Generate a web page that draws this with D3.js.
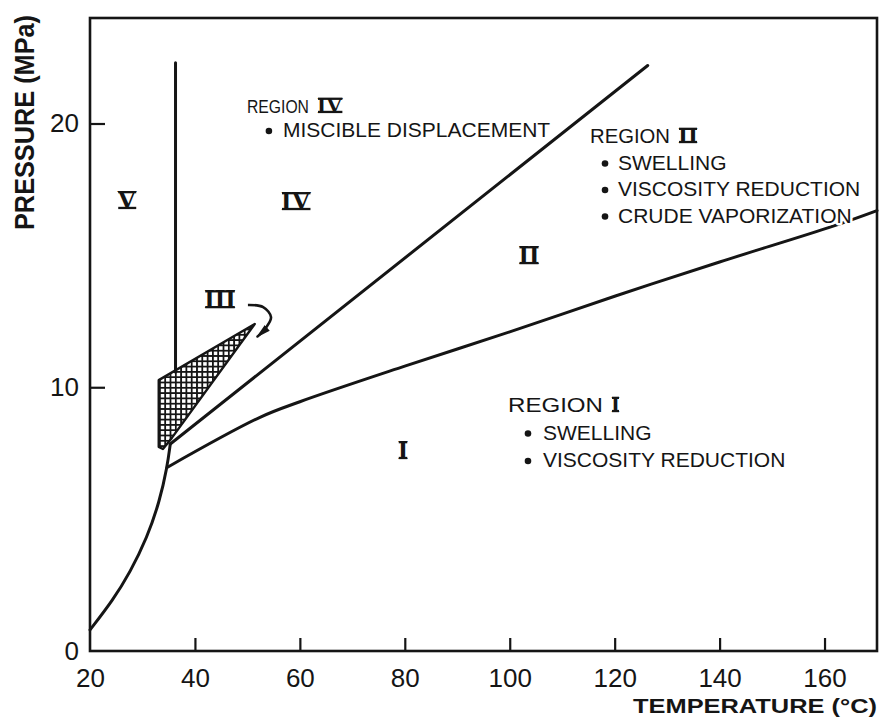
<!DOCTYPE html>
<html>
<head>
<meta charset="utf-8">
<script src="https://cdn.jsdelivr.net/npm/d3@7"></script>
<style>
  body { margin: 0; background: #ffffff; }
  svg { display: block; }
  .tick text { font-family: "Liberation Sans", Arial, sans-serif; font-size: 26px; fill: #151515; }
  .lbl { font-family: "Liberation Sans", Arial, sans-serif; font-size: 21px; fill: #151515;
         stroke: #fff; stroke-width: 5px; paint-order: stroke; stroke-linejoin: round; }
  .num { font-family: "Liberation Serif", "DejaVu Serif", serif; font-weight: bold; fill: #151515; }
  .axis-title { font-family: "Liberation Sans", Arial, sans-serif; font-weight: bold; fill: #151515; }
</style>
</head>
<body>
<svg id="chart" width="881" height="718"></svg>
<script>
// ---- Data: CO2 / crude oil phase-behaviour regions (temperature °C, pressure MPa) ----
const xTicks = [20, 40, 60, 80, 100, 120, 140, 160];
const yTicks = [0, 10, 20];

// Vapour-pressure curve rising from the lower left
const vaporT = [20, 24.4, 27.6, 30.9, 33.3, 34.7, 35.3];
const vaporP = [0.8, 1.94, 2.97, 4.3, 5.7, 6.96, 7.85];

// Boundary between region I and region II
const lowerT = [34.7, 52.4, 60, 80, 100, 120, 140, 161.5, 170];
const lowerP = [6.96, 8.86, 9.45, 10.8, 12.1, 13.45, 14.75, 16.1, 16.7];

// Boundary between region II and region IV
const upperT = [35.3, 126.3];
const upperP = [7.85, 22.2];

// Boundary between region V and region IV
const vertT = [36.3, 36.3];
const vertP = [22.3, 10.58];

// Region III (cross-hatched)
const hatchT = [33.1, 51.4, 35.6, 33.9, 33.1];
const hatchP = [10.27, 12.4, 8.08, 7.66, 7.74];

// Arrow pointing from the "III" label into the hatched region
const arrowT = [50.1, 53.0, 54.5, 53.5, 51.8];
const arrowP = [13.12, 13.04, 12.66, 12.25, 11.9];

// Region numerals inside the chart
const numeralText = ["V", "IV", "III", "II", "I"];
const numeralT = [27.05, 59.26, 44.78, 103.67, 79.66];
const numeralP = [16.76, 16.72, 13.0, 14.67, 7.28];

// Region descriptions
const regionIVItems = ["MISCIBLE DISPLACEMENT"];
const regionIIItems = ["SWELLING", "VISCOSITY REDUCTION", "CRUDE VAPORIZATION"];
const regionIItems = ["SWELLING", "VISCOSITY REDUCTION"];

// ---- Layout ----
const svg = d3.select("#chart");
const x = d3.scaleLinear().domain([20, 170]).range([90, 877]);
const y = d3.scaleLinear().domain([0, 24]).range([651, 18]);
const ink = "#151515";

// cross-hatch pattern
const defs = svg.append("defs");
const pat = defs.append("pattern").attr("id", "xhatch")
  .attr("patternUnits", "userSpaceOnUse").attr("width", 5.3).attr("height", 5.3);
pat.append("rect").attr("width", 5.3).attr("height", 5.3).attr("fill", "#fff");
pat.append("path").attr("d", "M0,0.9H5.3M0.9,0V5.3").attr("stroke", ink).attr("stroke-width", 1.8);

defs.append("marker").attr("id", "head").attr("viewBox", "0 0 14 8")
  .attr("refX", 13).attr("refY", 4).attr("markerWidth", 15).attr("markerHeight", 9)
  .attr("markerUnits", "userSpaceOnUse").attr("orient", "auto")
  .append("path").attr("d", "M0,0.5L14,4L0,7.5Z").attr("fill", ink);

const g = svg.append("g");

// axes (ticks point inward)
const xAxis = d3.axisBottom(x).tickValues(xTicks).tickSize(-13).tickPadding(18).tickFormat(d3.format("d"));
const yAxis = d3.axisLeft(y).tickValues(yTicks).tickSize(-15).tickPadding(11).tickFormat(d3.format("d"));
const gx = g.append("g").attr("transform", `translate(0,${y(0)})`).call(xAxis);
const gy = g.append("g").attr("transform", `translate(${x(20)},0)`).call(yAxis);
[gx, gy].forEach(a => {
  a.select(".domain").remove();
  a.selectAll(".tick line").attr("stroke", ink).attr("stroke-width", 2.2);
});
gx.selectAll(".tick").filter(d => d === 20).select("line").remove();
gy.selectAll(".tick").filter(d => d === 0).select("line").remove();

// frame
g.append("rect").attr("x", x(20)).attr("y", y(24))
  .attr("width", x(170) - x(20)).attr("height", y(0) - y(24))
  .attr("fill", "none").attr("stroke", ink).attr("stroke-width", 2.6);

// axis titles
g.append("text").attr("class", "axis-title")
  .attr("transform", `translate(34,${y(24) - 3}) rotate(-90)`)
  .attr("text-anchor", "end").attr("font-size", 27)
  .attr("textLength", 215).attr("lengthAdjust", "spacingAndGlyphs")
  .text("PRESSURE (MPa)");
g.append("text").attr("class", "axis-title")
  .attr("x", 877).attr("y", 713).attr("text-anchor", "end").attr("font-size", 21)
  .attr("textLength", 244).attr("lengthAdjust", "spacingAndGlyphs")
  .text("TEMPERATURE (°C)");

// boundaries
const zip = (ts, ps) => ts.map((t, i) => [t, ps[i]]);
const smooth = d3.line().x(d => x(d[0])).y(d => y(d[1])).curve(d3.curveCatmullRom.alpha(0.5));
const basis = d3.line().x(d => x(d[0])).y(d => y(d[1])).curve(d3.curveBasis);
const straight = d3.line().x(d => x(d[0])).y(d => y(d[1]));
const boundary = { fill: "none", stroke: ink, "stroke-width": 3, "stroke-linecap": "round", "stroke-linejoin": "round" };
function drawPath(d, attrs) {
  const p = g.append("path").attr("d", d);
  Object.entries(attrs).forEach(([k, v]) => p.attr(k, v));
  return p;
}

drawPath(straight(zip(hatchT, hatchP)) + "Z",
  { fill: "url(#xhatch)", stroke: ink, "stroke-width": 2.4, "stroke-linejoin": "round" });
drawPath(basis(zip(vaporT, vaporP)), boundary);
drawPath(smooth(zip(lowerT, lowerP)), boundary);
drawPath(straight(zip(upperT, upperP)), boundary);
drawPath(straight(zip(vertT, vertP)), boundary);
drawPath(smooth(zip(arrowT, arrowP)),
  { fill: "none", stroke: ink, "stroke-width": 2.6, "marker-end": "url(#head)" });

// Roman numerals with slab bars above and below
function numeral(cx, base, str, size, anchor, width) {
  const t = g.append("text").attr("class", "num").attr("x", cx).attr("y", base)
    .attr("font-size", size).attr("text-anchor", anchor).text(str);
  if (width) t.attr("textLength", width).attr("lengthAdjust", "spacingAndGlyphs");
  const b = t.node().getBBox();
  const cap = size * 0.66;
  [base - cap + 1, base - 1].forEach(yy =>
    g.append("line").attr("x1", b.x + 1).attr("x2", b.x + b.width - 1)
      .attr("y1", yy).attr("y2", yy).attr("stroke", ink).attr("stroke-width", 2.3));
  return b;
}
numeralText.forEach((s, i) => numeral(x(numeralT[i]), y(numeralP[i]), s, 27, "middle"));

// lettering carries a white halo, so boundaries pass behind the words
function label(px, py, str, width, size) {
  const t = g.append("text").attr("class", "lbl").attr("x", px).attr("y", py).text(str);
  if (size) t.style("font-size", size + "px");
  if (width) t.attr("textLength", width).attr("lengthAdjust", "spacingAndGlyphs");
  return t;
}
function regionBlock(tT, tP, roman, titleW, titleSize, numW, items, bulletT, textT, lineH) {
  const px = x(tT), py = y(tP);
  label(px, py, "REGION", titleW, titleSize);
  numeral(px + titleW + 8, py, roman, 23, "start", numW);
  items.forEach((s, i) => {
    const by = py + lineH * (i + 1);
    g.append("circle").attr("cx", x(bulletT)).attr("cy", by - 6).attr("r", 3.3).attr("fill", ink);
    label(x(textT), by, s);
  });
}
regionBlock(49.92, 20.40, "IV", 62, 18, 26, regionIVItems, 54.1, 56.78, 24);
regionBlock(115.3, 19.26, "II", 80, 21, 20, regionIIItems, 118.16, 120.63, 26.5);
regionBlock(99.67, 9.06, "I", 95, 21, 0, regionIItems, 103.48, 106.34, 27.5);
</script>
</body>
</html>
